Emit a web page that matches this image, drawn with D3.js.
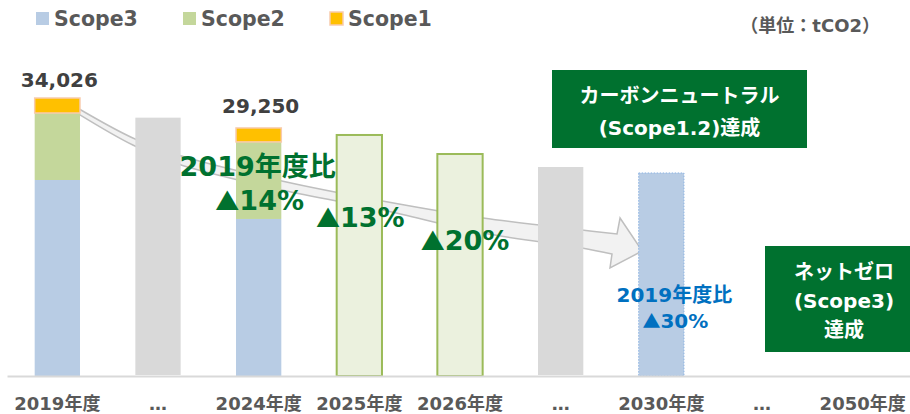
<!DOCTYPE html>
<html>
<head>
<meta charset="utf-8">
<script src="https://cdn.jsdelivr.net/npm/d3@7"></script>
<style>
  body { margin: 0; background: #fff; }
  svg { display: block; font-family: "DejaVu Sans", "Noto Sans CJK JP", sans-serif; font-weight: bold; }
</style>
</head>
<body>
<script>
// categories along the x axis
var years = ["2019年度", "…", "2024年度", "2025年度", "2026年度", "…", "2030年度", "…", "2050年度"];

// actual emissions (tCO2), stacked
var scope3 = [23990, 0, 19220, 0, 0, 0, 0, 0, 0];
var scope2 = [8200, 0, 9430, 0, 0, 0, 0, 0, 0];
var scope1 = [1836, 0, 1710, 0, 0, 0, 0, 0, 0];
var totalLabels = ["34,026", "", "29,250", "", "", "", "", "", ""];

// intermediate years (grey), targets (green), 2030 goal (blue)
var greyBars = [0, 31620, 0, 0, 0, 25580, 0, 0, 0];
var targetBars = [0, 0, 0, 29500, 27170, 0, 0, 0, 0];
var goalBars = [0, 0, 0, 0, 0, 0, 24850, 0, 0];
var reductions = ["", "", "14%", "13%", "20%", "", "", "", ""];

// arrow outline: [category position, tCO2]
var arrowUpper = [[0.2, 32800], [0.75, 29130], [1.2, 27050], [2.23, 23870], [3.23, 21420], [4.23, 19340], [5.21, 17870], [5.56, 17380]];
var arrowLower = [[0.2, 32150], [0.75, 28270], [1.2, 25950], [2.23, 22770], [3.23, 20320], [4.23, 17500], [5.21, 15670], [5.51, 14930]];
var arrowHead = [[5.59, 19340], [5.81, 15300], [5.49, 13220]];

var width = 910, height = 414;

var svg = d3.select("body").append("svg")
    .attr("width", width)
    .attr("height", height);

var x = d3.scaleBand()
    .domain(d3.range(years.length))
    .range([7, 913])
    .paddingInner(0.55)
    .paddingOuter(0.275);

var y = d3.scaleLinear()
    .domain([0, 34026])
    .range([376, 98]);

// fractional category position -> pixel
function px(p) { return x(0) + x.bandwidth() / 2 + p * x.step(); }

//Legend
var legend = [
  {name: "Scope3", fill: "#B8CCE4", stroke: "none", x: 36},
  {name: "Scope2", fill: "#C4D79B", stroke: "none", x: 183},
  {name: "Scope1", fill: "#FFC000", stroke: "#F8CBAD", x: 330}
];
var lg = svg.selectAll("g.legend").data(legend).enter().append("g").attr("class", "legend");
lg.append("rect")
    .attr("x", function(d) { return d.x; })
    .attr("y", 12)
    .attr("width", 13).attr("height", 13)
    .attr("fill", function(d) { return d.fill; })
    .attr("stroke", function(d) { return d.stroke; })
    .attr("stroke-width", 1.5);
lg.append("text")
    .attr("x", function(d) { return d.x + 18; })
    .attr("y", 26)
    .attr("font-size", 20.5)
    .attr("fill", "#595959")
    .text(function(d) { return d.name; });

svg.append("text")
    .attr("x", 880).attr("y", 32)
    .attr("text-anchor", "end")
    .attr("font-size", 18)
    .attr("fill", "#595959")
    .text("（単位：tCO2）");

//Arrow behind the bars
var line = d3.line()
    .x(function(d) { return px(d[0]); })
    .y(function(d) { return y(d[1]); })
    .curve(d3.curveCatmullRom);
var head = arrowHead.map(function(d) { return px(d[0]) + "," + y(d[1]); }).join("L");
var arrowD = line(arrowUpper) + "L" + head + line(arrowLower.slice().reverse()).replace(/^M/, "L") + "Z";
svg.append("path")
    .attr("d", arrowD)
    .attr("fill", "#F2F2F2")
    .attr("stroke", "#BFBFBF")
    .attr("stroke-width", 1.5)
    .attr("stroke-linejoin", "miter");

//Stacked actual bars
var table = years.map(function(d, i) {
  return {i: i, scope3: scope3[i], scope2: scope2[i], scope1: scope1[i]};
}).filter(function(d) { return d.scope3 + d.scope2 + d.scope1 > 0; });
var series = d3.stack().keys(["scope3", "scope2", "scope1"])(table);
var segColor = {scope3: "#B8CCE4", scope2: "#C4D79B", scope1: "#FFC000"};

svg.selectAll("g.series").data(series).enter().append("g")
    .attr("class", "series")
    .attr("fill", function(s) { return segColor[s.key]; })
    .attr("stroke", function(s) { return s.key === "scope1" ? "#F8CBAD" : "none"; })
    .attr("stroke-width", 1.5)
  .selectAll("rect").data(function(s) { return s; }).enter().append("rect")
    .attr("x", function(d) { return x(d.data.i); })
    .attr("y", function(d) { return y(d[1]); })
    .attr("width", x.bandwidth())
    .attr("height", function(d) { return y(d[0]) - y(d[1]); });

//Grey bars
svg.selectAll("rect.grey").data(d3.range(years.length).filter(function(i) { return greyBars[i] > 0; }))
  .enter().append("rect").attr("class", "grey")
    .attr("x", function(i) { return x(i); })
    .attr("y", function(i) { return y(greyBars[i]); })
    .attr("width", x.bandwidth())
    .attr("height", function(i) { return y(0) - y(greyBars[i]) - 1; })
    .attr("fill", "#D9D9D9");

//Target bars
svg.selectAll("rect.target").data(d3.range(years.length).filter(function(i) { return targetBars[i] > 0; }))
  .enter().append("rect").attr("class", "target")
    .attr("x", function(i) { return x(i); })
    .attr("y", function(i) { return y(targetBars[i]); })
    .attr("width", x.bandwidth())
    .attr("height", function(i) { return y(0) - y(targetBars[i]); })
    .attr("fill", "#EBF1DE")
    .attr("stroke", "#9BBB59")
    .attr("stroke-width", 2);

//2030 goal bar
svg.selectAll("rect.goal").data(d3.range(years.length).filter(function(i) { return goalBars[i] > 0; }))
  .enter().append("rect").attr("class", "goal")
    .attr("x", function(i) { return x(i); })
    .attr("y", function(i) { return y(goalBars[i]); })
    .attr("width", x.bandwidth())
    .attr("height", function(i) { return y(0) - y(goalBars[i]); })
    .attr("fill", "#B8CCE4")
    .attr("stroke", "#8EB4E3")
    .attr("stroke-width", 1)
    .attr("stroke-dasharray", "1.5,1.5");

//Axis
var axis = svg.append("g")
    .attr("transform", "translate(0," + y(0) + ")")
    .call(d3.axisBottom(x).tickSize(0).tickFormat(function(i) { return years[i]; }));
axis.select(".domain").attr("stroke", "#D9D9D9").attr("stroke-width", 2);
axis.selectAll(".tick text")
    .attr("y", 34).attr("dy", null)
    .attr("font-size", 18)
    .attr("font-family", "DejaVu Sans, Noto Sans CJK JP, sans-serif")
    .attr("font-weight", "bold")
    .attr("fill", "#595959");

//Total labels
var totalY = [87, 0, 113];
svg.selectAll("text.total").data(d3.range(years.length).filter(function(i) { return totalLabels[i]; }))
  .enter().append("text").attr("class", "total")
    .attr("x", function(i) { return x(i) + x.bandwidth() / 2 + 2; })
    .attr("y", function(i) { return totalY[i]; })
    .attr("text-anchor", "middle")
    .attr("font-size", 20)
    .attr("fill", "#404040")
    .text(function(i) { return totalLabels[i]; });

//Reduction labels (green)
var green = "#00712F";
svg.append("text")
    .attr("x", x(2) + x.bandwidth() / 2 - 1)
    .attr("y", 176)
    .attr("text-anchor", "middle")
    .attr("font-size", 27)
    .attr("fill", green)
    .text("2019年度比");
var redY = {2: 210, 3: 227, 4: 250};
var redDx = {2: 1, 3: 1, 4: 5};
var red = svg.selectAll("text.red").data(d3.range(years.length).filter(function(i) { return reductions[i]; }))
  .enter().append("text").attr("class", "red")
    .attr("x", function(i) { return x(i) + x.bandwidth() / 2 + redDx[i]; })
    .attr("y", function(i) { return redY[i]; })
    .attr("text-anchor", "middle")
    .attr("font-size", 27)
    .attr("fill", green);
red.append("tspan").attr("font-family", "Noto Sans CJK JP").attr("font-size", 24).text("▲");
red.append("tspan").text(function(i) { return reductions[i]; });

//2030 label (blue)
var goalText = svg.append("text")
    .attr("text-anchor", "middle")
    .attr("font-size", 20)
    .attr("fill", "#0070C0");
goalText.append("tspan").attr("x", x(6) + x.bandwidth() / 2 + 13).attr("y", 302).text("2019年度比");
var g30 = goalText.append("tspan").attr("x", x(6) + x.bandwidth() / 2 + 14).attr("y", 328);
g30.append("tspan").attr("font-family", "Noto Sans CJK JP").attr("font-size", 18).text("▲");
g30.append("tspan").text("30%");

//Green boxes
function box(x0, y0, w, h, lines, ys) {
  svg.append("rect")
      .attr("x", x0).attr("y", y0)
      .attr("width", w).attr("height", h)
      .attr("fill", green);
  var t = svg.append("text")
      .attr("text-anchor", "middle")
      .attr("font-size", 20)
      .attr("fill", "#fff");
  lines.forEach(function(l, k) {
    t.append("tspan").attr("x", x0 + w / 2).attr("y", ys[k]).text(l);
  });
}
box(552, 70, 255, 78, ["カーボンニュートラル", "(Scope1.2)達成"], [103, 135]);
box(765, 246, 158, 106, ["ネットゼロ", "(Scope3)", "達成"], [279, 308, 337]);
</script>
</body>
</html>
